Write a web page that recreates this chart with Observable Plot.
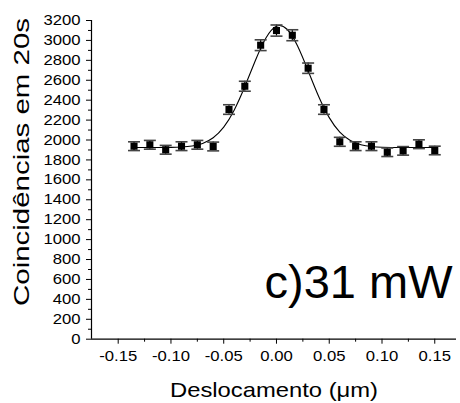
<!DOCTYPE html>
<html><head><meta charset="utf-8">
<script src="https://cdn.jsdelivr.net/npm/d3@7"></script>
<script src="https://cdn.jsdelivr.net/npm/@observablehq/plot@0.6"></script>
<style>body{margin:0;background:#fff} svg{display:block}</style>
</head><body><div id="chart"></div>
<script>
// Measured points
const xPos   = [-0.135,-0.12,-0.105,-0.09,-0.075,-0.06,-0.045,-0.03,-0.015,0,0.015,0.03,0.045,0.06,0.075,0.09,0.105,0.12,0.135,0.15];
const counts = [1938,1952,1902,1938,1952,1935,2306,2540,2952,3099,3052,2721,2306,1982,1938,1938,1877,1891,1958,1895];
const errors = [44,44,44,44,44,44,48,50,54,56,55,52,48,45,44,44,43,43,44,43];
// Fitted curve
const fitX = [-0.135,-0.12,-0.10,-0.09,-0.08,-0.07,-0.06,-0.05,-0.04,-0.03,-0.02,-0.01,0,0.01,0.02,0.03,0.04,0.05,0.06,0.07,0.08,0.09,0.10,0.12,0.15];
const fitY = [1925,1925,1926,1930,1940,1966,2023,2129,2302,2537,2799,3025,3143,3112,2944,2695,2437,2225,2079,1995,1953,1935,1928,1925,1925];
// Ticks and labels
const xTicks = [-0.15,-0.10,-0.05,0,0.05,0.10,0.15];
const xMinor = [-0.125,-0.075,-0.025,0.025,0.075,0.125];
const yTicks = [0,200,400,600,800,1000,1200,1400,1600,1800,2000,2200,2400,2600,2800,3000,3200];
const yMinor = [100,300,500,700,900,1100,1300,1500,1700,1900,2100,2300,2500,2700,2900,3100];
const xTitle = "Deslocamento (\u03bcm)";
const yTitle = "Coincid\u00eancias em 20s";
const annotation = "c)31 mW";

const pts = xPos.map((x, i) => ({x, y: counts[i], e: errors[i]}));
const fit = fitX.map((x, i) => ({x, y: fitY[i]}));
const xMin = -0.1753, xMax = 0.1706;

const capSymbol = {draw(ctx) { ctx.moveTo(-6, 0); ctx.lineTo(6, 0); }};

const chart = Plot.plot({
  width: 460, height: 403,
  marginLeft: 91, marginRight: 4, marginTop: 20, marginBottom: 64.3,
  style: {fontFamily: "'Liberation Sans', Arial, sans-serif", background: "white", color: "black", overflow: "visible"},
  x: {domain: [xMin, xMax], range: [91, 456]},
  y: {domain: [0, 3200], range: [338.7, 20]},
  marks: [
    Plot.axisY(yTicks, {tickSize: 5, tickPadding: 6, fontSize: 14.5, label: null, tickFormat: d => String(d)}),
    Plot.axisY(yMinor, {tickSize: 3, label: null, tickFormat: () => ""}),
    Plot.axisX(xTicks, {tickSize: 5, tickPadding: 7, fontSize: 14.5, label: null, tickFormat: d => d.toFixed(2)}),
    Plot.axisX(xMinor, {tickSize: 3, label: null, tickFormat: () => ""}),
    Plot.ruleY([0], {stroke: "black", strokeWidth: 1.2}),
    Plot.ruleX([xMin], {y1: 0, y2: 3200, stroke: "black", strokeWidth: 1.2}),
    Plot.line(fit, {x: "x", y: "y", curve: "natural", stroke: "black", strokeWidth: 1.1}),
    Plot.ruleX(pts, {x: "x", y1: d => d.y - d.e, y2: d => d.y + d.e, stroke: "black", strokeWidth: 1.2}),
    Plot.dot(pts, {x: "x", y: d => d.y + d.e, symbol: capSymbol, stroke: "#444", strokeWidth: 1.6}),
    Plot.dot(pts, {x: "x", y: d => d.y - d.e, symbol: capSymbol, stroke: "#444", strokeWidth: 1.6}),
    Plot.dot(pts, {x: "x", y: "y", symbol: "square", r: 4, fill: "black", stroke: "none"}),
    Plot.text([annotation], {frameAnchor: "bottom-right", text: d => d, textAnchor: "end", lineAnchor: "middle", dx: -4, dy: -56, fontSize: 47, fill: "black"})
  ]
});
document.getElementById("chart").appendChild(chart);

const svg = d3.select(chart);
// slightly widen tick labels to match reference typeface proportions
svg.selectAll('g[aria-label$="tick label"] text').each(function() {
  if (!this.textContent) return;
  const w = this.getComputedTextLength();
  this.setAttribute("textLength", (w * 1.15).toFixed(1));
  this.setAttribute("lengthAdjust", "spacingAndGlyphs");
});
svg.append("text")
  .attr("x", 274).attr("y", 396.7)
  .attr("text-anchor", "middle")
  .attr("font-size", 21)
  .attr("textLength", 208).attr("lengthAdjust", "spacingAndGlyphs")
  .attr("fill", "black")
  .text(xTitle);
svg.append("text")
  .attr("transform", "translate(29,162) rotate(-90)")
  .attr("text-anchor", "middle")
  .attr("font-size", 22)
  .attr("textLength", 288).attr("lengthAdjust", "spacingAndGlyphs")
  .attr("fill", "black")
  .text(yTitle);
</script>
</body></html>
